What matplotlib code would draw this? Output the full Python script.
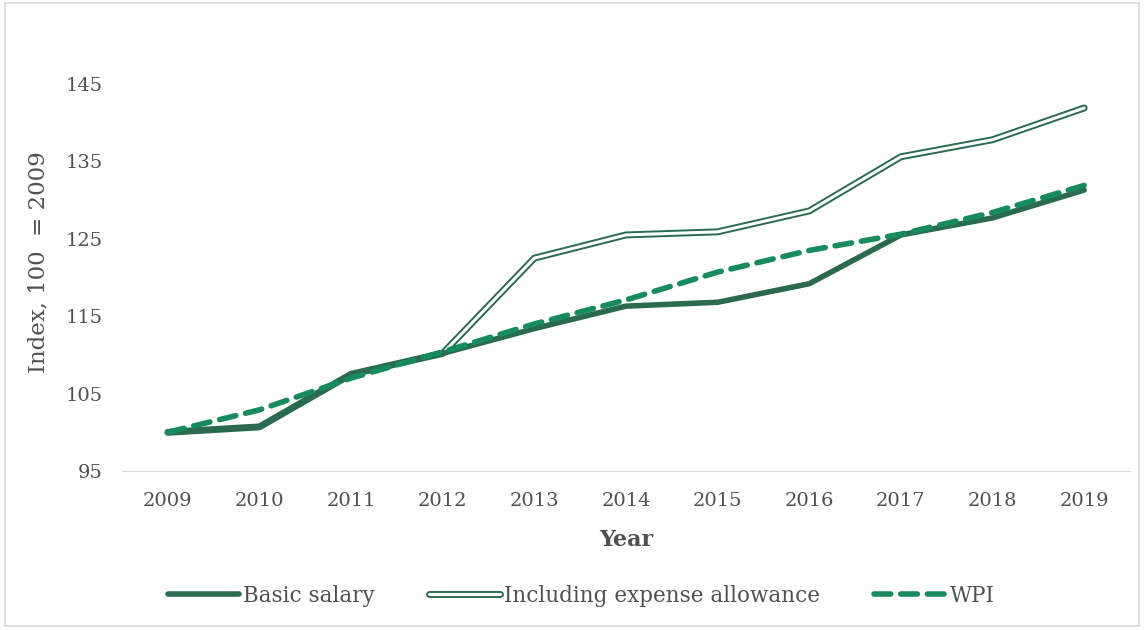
import matplotlib
matplotlib.use("Agg")
import matplotlib.pyplot as plt
import matplotlib.patheffects as pe
from matplotlib.patches import Rectangle

years = ["2009", "2010", "2011", "2012", "2013", "2014", "2015", "2016", "2017", "2018", "2019"]
basic = [100, 100.7, 107.5, 110.2, 113.4, 116.3, 116.8, 119.2, 125.5, 127.7, 131.3]
incl_expense = [100, 100.7, 107.5, 110.2, 122.5, 125.5, 125.9, 128.6, 135.6, 137.8, 141.9]
wpi = [100, 102.9, 107, 110.4, 114, 117.1, 120.7, 123.5, 125.6, 128.4, 131.9]
yticks = [95, 105, 115, 125, 135, 145]

dark = "#2a6b50"
wpi_col = "#168b5e"
txt = "#505050"

plt.rcParams['font.family'] = ['DejaVu Serif']

fig = plt.figure(figsize=(11.44, 6.3), dpi=100)
fig.patches.append(Rectangle((0.004, 0.006), 0.992, 0.99, transform=fig.transFigure,
                             fill=False, edgecolor="#d9d9d9", linewidth=1.2))
ax = fig.add_axes([122 / 1144, 1 - 471 / 630, (1130 - 122) / 1144, (471 - 84) / 630])

x = range(len(years))
ax.plot(x, incl_expense, color="white", linewidth=2.2, solid_capstyle="round",
        path_effects=[pe.Stroke(linewidth=5, foreground=dark, capstyle="round"), pe.Normal()],
        label="Including expense allowance", zorder=2)
ax.plot(x, basic, color=dark, linewidth=4, solid_capstyle="round", label="Basic salary", zorder=3)
ax.plot(x, wpi, color=wpi_col, linewidth=4, linestyle=(0, (3, 1.8)), dash_capstyle="round",
        label="WPI", zorder=4)

ax.set_xlim(-0.5, len(years) - 0.5)
ax.set_ylim(95, 145)
ax.set_yticks(yticks)
ax.set_xticks(list(x))
ax.set_xticklabels(years)
for s in ["top", "right", "left"]:
    ax.spines[s].set_visible(False)
ax.spines["bottom"].set_color("#d9d9d9")
ax.tick_params(axis="both", length=0, labelsize=14, colors=txt)
ax.tick_params(axis="x", pad=15)
ax.tick_params(axis="y", pad=14)
ax.set_xlabel("Year", fontsize=16, fontweight="bold", color=txt, labelpad=14)
ax.set_ylabel("Index, 100  = 2009", fontsize=16.5, color=txt)
ax.yaxis.set_label_coords(-0.072, 0.54)

h, l = ax.get_legend_handles_labels()
order = [1, 0, 2]
leg = fig.legend([h[i] for i in order], [l[i] for i in order], loc="center",
                 bbox_to_anchor=(0.508, 0.054), ncol=3, frameon=False, fontsize=15.5,
                 handlelength=3.3, handletextpad=0.2, columnspacing=2.5)
for t in leg.get_texts():
    t.set_color(txt)

fig.savefig("out.png", dpi=100)
